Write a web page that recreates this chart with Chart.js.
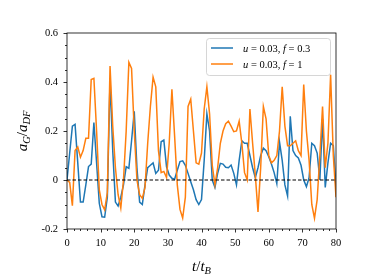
<!DOCTYPE html>
<html>
<head>
    <title>a_G / a_DF</title>
    <script src="https://cdn.jsdelivr.net/npm/chart.js"></script>
    <style>
        html, body {
            margin: 0;
            padding: 0;
            background: #ffffff;
        }
        .chart-container {
            width: 374px;
            height: 280px;
        }
    </style>
</head>
<body>
    <div class="chart-container">
        <canvas id="accel-chart" width="374" height="280"></canvas>
    </div>

    <script>
        // time samples, t / t_B
        const tValues = [0,0.8,1.6,2.4,3.2,4,4.8,5.6,6.4,7.2,8,8.8,9.6,10.4,11.2,12,12.8,13.6,14.4,15.2,
            16,16.8,17.6,18.4,19.2,20,20.8,21.6,22.4,23.2,24,24.8,25.6,26.4,27.2,28,28.8,29.6,30.4,31.2,
            32,32.8,33.6,34.4,35.2,36,36.8,37.6,38.4,39.2,40,40.8,41.6,42.4,43.2,44,44.8,45.6,46.4,47.2,
            48,48.8,49.6,50.4,51.2,52,52.8,53.6,54.4,55.2,56,56.8,57.6,58.4,59.2,60,60.8,61.6,62.4,63.2,
            64,64.8,65.6,66.4,67.2,68,68.8,69.6,70.4,71.2,72,72.8,73.6,74.4,75.2,76,76.8,77.6,78.4,79.2,80];

        // u = 0.03, f = 0.3
        const accelLowF = [0,0.11,0.22,0.227,0.07,-0.09,-0.09,-0.02,0.055,0.065,
            0.235,0.07,-0.095,-0.15,-0.152,-0.07,0.41,0.12,-0.09,-0.106,
            -0.07,-0.02,0.054,0.048,0.16,0.28,0.05,-0.09,-0.1,-0.02,
            0.05,0.06,0.07,0.027,0.04,0.156,0.163,0.054,0.02,0.007,
            0.003,0.04,0.075,0.078,0.06,0.027,-0.007,-0.04,-0.08,-0.1,
            -0.08,0.08,0.27,0.2,0,-0.03,0.027,0.068,0.065,0.052,
            0.05,0.061,0.027,-0.02,0.08,0.16,0.15,0.15,0.1,0.05,
            0.01,0.05,0.1,0.13,0.12,0.095,0.065,0.03,-0.015,0.155,
            0.08,-0.02,-0.065,0.26,0.12,0.1,0.09,0.06,0,-0.027,
            0.01,0.15,0.14,0.11,0,0.25,-0.03,0.07,0.15,0.14,-0.03];

        // u = 0.03, f = 1
        const accelHighF = [0,-0.01,-0.105,0.12,0.135,0.093,0.12,0.17,0.17,0.41,
            0.415,0.2,-0.04,-0.1,-0.122,-0.05,0.465,0.22,0.05,-0.06,
            -0.115,0,0.2,0.48,0.455,0.2,0,-0.06,-0.075,-0.03,
            0.15,0.3,0.42,0.38,0.12,0.03,0.035,0.01,0.15,0.37,
            0.18,-0.02,-0.12,-0.155,-0.07,0.3,0.33,0.2,0.07,0.065,
            0.11,0.29,0.38,0.27,0.06,-0.02,0.05,0.15,0.2,0.23,
            0.24,0.22,0.197,0.2,0.24,0.15,0.03,0,0.29,0.15,
            0.02,-0.13,0.05,0.3,0.25,0.1,0.07,0.08,0.1,0.2,
            0.38,0.22,0.14,0.14,0.15,0.16,0.12,0.1,0.39,0.2,
            0.08,-0.1,-0.156,-0.08,0.1,0.3,0.05,0.15,0.43,0.1,-0.07];

        const seriesLabels = [
            [{ text: 'u', italic: true }, { text: ' = 0.03, ' }, { text: 'f', italic: true }, { text: ' = 0.3' }],
            [{ text: 'u', italic: true }, { text: ' = 0.03, ' }, { text: 'f', italic: true }, { text: ' = 1' }]
        ];
        const seriesColors = ['#1f77b4', '#ff7f0e'];

        const xTicks = [0, 10, 20, 30, 40, 50, 60, 70, 80];
        const yTicks = [-0.2, 0, 0.2, 0.4, 0.6];
        const yTickLabels = ['-0.2', '0', '0.2', '0.4', '0.6'];
        const zeroLine = [0, 0];

        const serif = "'Liberation Serif', 'DejaVu Serif', serif";

        function toPoints(xs, ys) {
            return ys.map((y, i) => ({ x: xs[i], y: y }));
        }

        // draws text made of plain / italic / subscript pieces, centred on (cx, baseline)
        function drawMath(ctx, parts, cx, baseline, size) {
            const fontFor = p => (p.italic ? 'italic ' : '') + (p.sub ? size * 0.7 : size) + 'px ' + serif;
            let total = 0;
            parts.forEach(p => { ctx.font = fontFor(p); total += ctx.measureText(p.text).width; });
            let x = cx - total / 2;
            ctx.textAlign = 'left';
            ctx.textBaseline = 'alphabetic';
            parts.forEach(p => {
                ctx.font = fontFor(p);
                ctx.fillText(p.text, x, baseline + (p.sub ? size * 0.22 : 0));
                x += ctx.measureText(p.text).width;
            });
        }

        function drawInline(ctx, parts, x, baseline, size) {
            ctx.textAlign = 'left';
            ctx.textBaseline = 'alphabetic';
            parts.forEach(p => {
                ctx.font = (p.italic ? 'italic ' : '') + size + 'px ' + serif;
                ctx.fillText(p.text, x, baseline);
                x += ctx.measureText(p.text).width;
            });
        }

        const decorations = {
            id: 'decorations',
            afterDraw(chart) {
                const ctx = chart.ctx;
                const area = chart.chartArea;
                const xs = chart.scales.x;
                const ys = chart.scales.y;
                ctx.save();

                // frame
                ctx.strokeStyle = '#000000';
                ctx.lineWidth = 0.8;
                ctx.strokeRect(area.left, area.top, area.right - area.left, area.bottom - area.top);

                // ticks, outward
                ctx.beginPath();
                for (let v = 0; v <= 80; v += 2) {
                    const px = Math.round(xs.getPixelForValue(v)) + 0.5;
                    const len = v % 10 === 0 ? 3.5 : 2;
                    ctx.moveTo(px, area.bottom);
                    ctx.lineTo(px, area.bottom + len);
                }
                for (let k = -4; k <= 12; k++) {
                    const py = Math.round(ys.getPixelForValue(k * 0.05)) + 0.5;
                    const len = k % 4 === 0 ? 3.5 : 2;
                    ctx.moveTo(area.left, py);
                    ctx.lineTo(area.left - len, py);
                }
                ctx.stroke();

                // axis titles
                ctx.fillStyle = '#000000';
                drawMath(ctx, [
                    { text: 't', italic: true }, { text: '/' }, { text: 't', italic: true }, { text: 'B', italic: true, sub: true }
                ], (area.left + area.right) / 2, 271, 15);

                ctx.save();
                ctx.translate(27, (area.top + area.bottom) / 2);
                ctx.rotate(-Math.PI / 2);
                drawMath(ctx, [
                    { text: 'a', italic: true }, { text: 'G', italic: true, sub: true }, { text: '/' },
                    { text: 'a', italic: true }, { text: 'DF', italic: true, sub: true }
                ], 0, 0, 15);
                ctx.restore();

                // legend
                const lx = 206.5, ly = 38.5, lw = 124, lh = 37, r = 3;
                ctx.beginPath();
                ctx.moveTo(lx + r, ly);
                ctx.arcTo(lx + lw, ly, lx + lw, ly + lh, r);
                ctx.arcTo(lx + lw, ly + lh, lx, ly + lh, r);
                ctx.arcTo(lx, ly + lh, lx, ly, r);
                ctx.arcTo(lx, ly, lx + lw, ly, r);
                ctx.closePath();
                ctx.fillStyle = 'rgba(255,255,255,0.8)';
                ctx.fill();
                ctx.strokeStyle = '#cccccc';
                ctx.lineWidth = 0.8;
                ctx.stroke();

                seriesLabels.forEach((parts, i) => {
                    const yy = 48 + i * 16;
                    ctx.strokeStyle = seriesColors[i];
                    ctx.lineWidth = 1.5;
                    ctx.beginPath();
                    ctx.moveTo(211, yy);
                    ctx.lineTo(233, yy);
                    ctx.stroke();
                    ctx.fillStyle = '#000000';
                    drawInline(ctx, parts, 243, yy + 3.5, 10.5);
                });

                ctx.restore();
            }
        };

        const ctx = document.getElementById('accel-chart').getContext('2d');
        new Chart(ctx, {
            type: 'line',
            data: {
                datasets: [
                    {
                        label: 'zero',
                        data: toPoints([xTicks[0], xTicks[xTicks.length - 1]], zeroLine),
                        borderColor: '#000000',
                        borderWidth: 1,
                        borderDash: [3.5, 2],
                        pointRadius: 0,
                        order: 0
                    },
                    {
                        label: 'f = 1',
                        data: toPoints(tValues, accelHighF),
                        borderColor: seriesColors[1],
                        borderWidth: 1.5,
                        pointRadius: 0,
                        tension: 0,
                        order: 1
                    },
                    {
                        label: 'f = 0.3',
                        data: toPoints(tValues, accelLowF),
                        borderColor: seriesColors[0],
                        borderWidth: 1.5,
                        pointRadius: 0,
                        tension: 0,
                        order: 2
                    }
                ]
            },
            options: {
                responsive: false,
                animation: false,
                devicePixelRatio: 1,
                layout: { padding: { top: 33, right: 38, left: 0, bottom: 0 } },
                plugins: {
                    legend: { display: false },
                    tooltip: { enabled: false }
                },
                scales: {
                    x: {
                        type: 'linear',
                        min: 0,
                        max: 80,
                        afterBuildTicks: scale => { scale.ticks = xTicks.map(v => ({ value: v })); },
                        afterFit: scale => { scale.height = 51; },
                        grid: { display: false, drawTicks: false },
                        border: { display: false },
                        ticks: {
                            padding: 8,
                            maxRotation: 0,
                            color: '#000000',
                            font: { family: serif, size: 10.5 },
                            callback: v => String(v)
                        }
                    },
                    y: {
                        min: -0.2,
                        max: 0.6,
                        afterBuildTicks: scale => { scale.ticks = yTicks.map(v => ({ value: v })); },
                        afterFit: scale => { scale.width = 67; },
                        grid: { display: false, drawTicks: false },
                        border: { display: false },
                        ticks: {
                            padding: 9,
                            color: '#000000',
                            font: { family: serif, size: 10.5 },
                            callback: (v, i) => yTickLabels[i]
                        }
                    }
                }
            },
            plugins: [decorations]
        });
    </script>
</body>
</html>
